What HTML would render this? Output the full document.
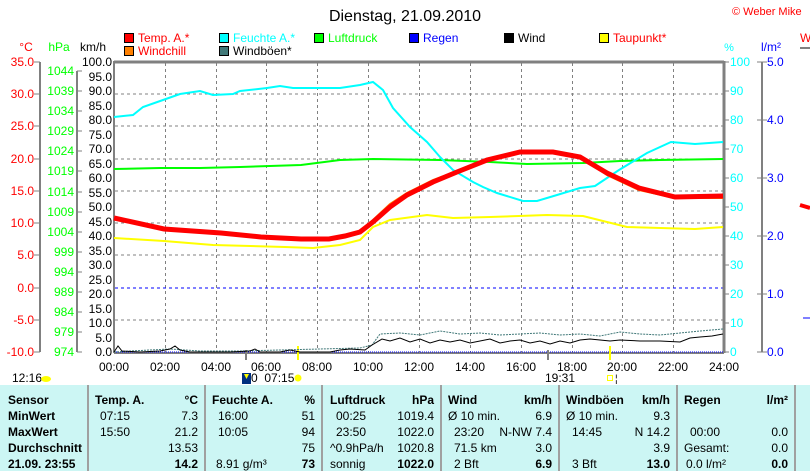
<!DOCTYPE html>
<html><head><meta charset="utf-8"><style>
html,body{margin:0;padding:0;background:#fff;}
svg{display:block;font-family:"Liberation Sans",Arial,sans-serif;}
</style></head><body>
<svg width="810" height="471" viewBox="0 0 810 471" xmlns="http://www.w3.org/2000/svg">
<rect width="810" height="471" fill="#fff"/>
<text x="405" y="21" font-size="16" text-anchor="middle">Dienstag, 21.09.2010</text>
<text x="732" y="15" font-size="11" fill="#f00">© Weber Mike</text>
<g font-size="12">
<rect x="124.5" y="33.5" width="9" height="9" fill="#f00" stroke="#000"/><text x="138" y="42" fill="#f00">Temp. A.*</text>
<rect x="124.5" y="46.5" width="9" height="9" fill="#ff8000" stroke="#000"/><text x="138" y="55" fill="#f00">Windchill</text>
<rect x="219.5" y="33.5" width="9" height="9" fill="#0ff" stroke="#000"/><text x="233" y="42" fill="#0ff">Feuchte A.*</text>
<rect x="219.5" y="46.5" width="9" height="9" fill="#407878" stroke="#000"/><text x="233" y="55">Windböen*</text>
<rect x="314.5" y="33.5" width="9" height="9" fill="#0f0" stroke="#000"/><text x="328" y="42" fill="#0f0">Luftdruck</text>
<rect x="409.5" y="33.5" width="9" height="9" fill="#00f" stroke="#000"/><text x="423" y="42" fill="#00f">Regen</text>
<rect x="504.5" y="33.5" width="9" height="9" fill="#000" stroke="#000"/><text x="518" y="42">Wind</text>
<rect x="599.5" y="33.5" width="9" height="9" fill="#ff0" stroke="#000"/><text x="613" y="42" fill="#f00">Taupunkt*</text>
</g>
<g font-size="12">
<text x="26" y="51" fill="#f00" text-anchor="middle">°C</text>
<text x="59" y="51" fill="#0f0" text-anchor="middle">hPa</text>
<text x="93" y="51" text-anchor="middle">km/h</text>
<text x="729" y="51" fill="#0ff" text-anchor="middle" font-size="11">%</text>
<text x="771" y="51" fill="#00f" text-anchor="middle">l/m²</text>
<text x="800" y="42" fill="#f00">W</text>
</g>
<g stroke="#808080" stroke-dasharray="3,3" stroke-width="1">
<line x1="115" y1="94" x2="723" y2="94"/><line x1="115" y1="126" x2="723" y2="126"/><line x1="115" y1="159" x2="723" y2="159"/><line x1="115" y1="191" x2="723" y2="191"/><line x1="115" y1="223" x2="723" y2="223"/><line x1="115" y1="255" x2="723" y2="255"/><line x1="115" y1="320" x2="723" y2="320"/>
<line x1="165.5" y1="63" x2="165.5" y2="352"/><line x1="216.5" y1="63" x2="216.5" y2="352"/><line x1="266.5" y1="63" x2="266.5" y2="352"/><line x1="317.5" y1="63" x2="317.5" y2="352"/><line x1="368.5" y1="63" x2="368.5" y2="352"/><line x1="419.5" y1="63" x2="419.5" y2="352"/><line x1="470.5" y1="63" x2="470.5" y2="352"/><line x1="521.5" y1="63" x2="521.5" y2="352"/><line x1="572.5" y1="63" x2="572.5" y2="352"/><line x1="622.5" y1="63" x2="622.5" y2="352"/><line x1="673.5" y1="63" x2="673.5" y2="352"/>
</g>
<line x1="115" y1="288" x2="723" y2="288" stroke="#00f" stroke-dasharray="3,3"/>
<g fill="none" stroke="#808080" stroke-width="2">
<line x1="114" y1="62" x2="724" y2="62" stroke-width="3"/>
<line x1="114" y1="61" x2="114" y2="353"/>
<line x1="724" y1="61" x2="724" y2="353" stroke-width="3"/>
<line x1="40" y1="62" x2="40" y2="352"/>
<line x1="77" y1="71" x2="77" y2="352"/>
<line x1="762" y1="62" x2="762" y2="352"/>
<line x1="800" y1="48" x2="810" y2="48"/>
</g>
<line x1="114" y1="353" x2="724" y2="353" stroke="#808080" stroke-width="2"/>
<line x1="114" y1="352" x2="724" y2="352" stroke="#00f" stroke-dasharray="1,1"/>
<g stroke="#808080">
<line x1="34" y1="62" x2="40" y2="62"/><line x1="34" y1="94" x2="40" y2="94"/><line x1="34" y1="126" x2="40" y2="126"/><line x1="34" y1="159" x2="40" y2="159"/><line x1="34" y1="191" x2="40" y2="191"/><line x1="34" y1="223" x2="40" y2="223"/><line x1="34" y1="255" x2="40" y2="255"/><line x1="34" y1="288" x2="40" y2="288"/><line x1="34" y1="320" x2="40" y2="320"/><line x1="34" y1="352" x2="40" y2="352"/>
<line x1="77" y1="71" x2="82" y2="71"/><line x1="77" y1="91" x2="82" y2="91"/><line x1="77" y1="111" x2="82" y2="111"/><line x1="77" y1="131" x2="82" y2="131"/><line x1="77" y1="151" x2="82" y2="151"/><line x1="77" y1="171" x2="82" y2="171"/><line x1="77" y1="192" x2="82" y2="192"/><line x1="77" y1="212" x2="82" y2="212"/><line x1="77" y1="232" x2="82" y2="232"/><line x1="77" y1="252" x2="82" y2="252"/><line x1="77" y1="272" x2="82" y2="272"/><line x1="77" y1="292" x2="82" y2="292"/><line x1="77" y1="312" x2="82" y2="312"/><line x1="77" y1="332" x2="82" y2="332"/><line x1="77" y1="352" x2="82" y2="352"/>
<line x1="724" y1="62" x2="729" y2="62"/><line x1="724" y1="91" x2="729" y2="91"/><line x1="724" y1="120" x2="729" y2="120"/><line x1="724" y1="149" x2="729" y2="149"/><line x1="724" y1="178" x2="729" y2="178"/><line x1="724" y1="207" x2="729" y2="207"/><line x1="724" y1="236" x2="729" y2="236"/><line x1="724" y1="265" x2="729" y2="265"/><line x1="724" y1="294" x2="729" y2="294"/><line x1="724" y1="323" x2="729" y2="323"/><line x1="724" y1="352" x2="729" y2="352"/>
<line x1="757" y1="62" x2="767" y2="62"/><line x1="757" y1="120" x2="767" y2="120"/><line x1="757" y1="178" x2="767" y2="178"/><line x1="757" y1="236" x2="767" y2="236"/><line x1="757" y1="294" x2="767" y2="294"/><line x1="757" y1="352" x2="767" y2="352"/>
</g>
<g font-size="12" fill="#f00" text-anchor="end">
<text x="34" y="66">35.0</text><text x="34" y="98">30.0</text><text x="34" y="130">25.0</text><text x="34" y="163">20.0</text><text x="34" y="195">15.0</text><text x="34" y="227">10.0</text><text x="34" y="259">5.0</text><text x="34" y="292">0.0</text><text x="34" y="324">-5.0</text><text x="34" y="356">-10.0</text>
</g>
<g font-size="12" fill="#0f0" text-anchor="end">
<text x="74" y="75">1044</text><text x="74" y="95">1039</text><text x="74" y="115">1034</text><text x="74" y="135">1029</text><text x="74" y="155">1024</text><text x="74" y="175">1019</text><text x="74" y="196">1014</text><text x="74" y="216">1009</text><text x="74" y="236">1004</text><text x="74" y="256">999</text><text x="74" y="276">994</text><text x="74" y="296">989</text><text x="74" y="316">984</text><text x="74" y="336">979</text><text x="74" y="356">974</text>
</g>
<g font-size="12" text-anchor="end">
<text x="112" y="66">100.0</text><text x="112" y="81">95.0</text><text x="112" y="95">90.0</text><text x="112" y="110">85.0</text><text x="112" y="124">80.0</text><text x="112" y="139">75.0</text><text x="112" y="153">70.0</text><text x="112" y="168">65.0</text><text x="112" y="182">60.0</text><text x="112" y="197">55.0</text><text x="112" y="211">50.0</text><text x="112" y="226">45.0</text><text x="112" y="240">40.0</text><text x="112" y="255">35.0</text><text x="112" y="269">30.0</text><text x="112" y="284">25.0</text><text x="112" y="298">20.0</text><text x="112" y="313">15.0</text><text x="112" y="327">10.0</text><text x="112" y="342">5.0</text><text x="112" y="356">0.0</text>
</g>
<g font-size="12" fill="#0ff">
<text x="730" y="66">100</text><text x="730" y="95">90</text><text x="730" y="124">80</text><text x="730" y="153">70</text><text x="730" y="182">60</text><text x="730" y="211">50</text><text x="730" y="240">40</text><text x="730" y="269">30</text><text x="730" y="298">20</text><text x="730" y="327">10</text><text x="730" y="356">0</text>
</g>
<g font-size="12" fill="#00f">
<text x="767" y="66">5.0</text><text x="767" y="124">4.0</text><text x="767" y="182">3.0</text><text x="767" y="240">2.0</text><text x="767" y="298">1.0</text><text x="767" y="356">0.0</text>
</g>
<path d="M800 205 L810 208" stroke="#f00" stroke-width="4"/>
<line x1="803" y1="318" x2="810" y2="318" stroke="#00f"/>
<g font-size="12" text-anchor="middle">
<text x="114" y="371">00:00</text><text x="165" y="371">02:00</text><text x="216" y="371">04:00</text><text x="266" y="371">06:00</text><text x="317" y="371">08:00</text><text x="368" y="371">10:00</text><text x="419" y="371">12:00</text><text x="470" y="371">14:00</text><text x="521" y="371">16:00</text><text x="572" y="371">18:00</text><text x="622" y="371">20:00</text><text x="673" y="371">22:00</text><text x="724" y="371">24:00</text>
</g>
<line x1="246" y1="350" x2="246" y2="360" stroke="#808080" stroke-width="2"/>
<line x1="548" y1="350" x2="548" y2="360" stroke="#808080" stroke-width="2"/>
<line x1="298" y1="346" x2="298" y2="360" stroke="#ff0" stroke-width="2"/>
<line x1="610" y1="346" x2="610" y2="360" stroke="#ff0" stroke-width="2"/>
<polyline fill="none" stroke="#0f0" stroke-width="2" points="114,169 160,168 200,168 240,167 301,165 340,160 373,159 440,160 490,162 527,164 583,163 620,161 660,160 723,159"/>
<polyline fill="none" stroke="#0ff" stroke-width="2" points="114,117 133,115 143,107 163,100 180,94 200,91 213,95 233,94 240,91 267,88 280,86 293,88 340,88 360,85 373,82 383,90 393,108 410,127 427,142 440,157 453,170 473,182 483,187 497,193 523,201 537,201 557,195 580,188 595,186 619,170 647,153 671,142 695,144 723,142"/>
<polyline fill="none" stroke="#ff0" stroke-width="2" points="114,238 164,241 213,245 285,247 313,248 340,245 360,240 373,227 390,220 427,215 453,218 490,217 547,215 583,216 627,227 695,229 723,227"/>
<polyline fill="none" stroke="#ff8000" stroke-width="2" points="114,219 164,230 221,234 261,238 301,240 329,240 360,231 373,220 390,204 407,193 433,180 457,171 487,159 520,152 553,152 583,158 607,175 639,190 675,198 723,198"/>
<polyline fill="none" stroke="#f00" stroke-width="5" points="114,218 164,229 221,233 261,237 301,239 329,239 345,236 360,232 373,222 390,207 407,195 433,182 457,172 487,160 520,152 553,152 580,157 607,173 639,188 675,197 723,196"/>
<polyline fill="none" stroke="#407878" stroke-width="1" stroke-dasharray="2,1" points="114,352 130,351 150,350 170,349 200,351 240,351 280,350 320,349 360,348 372,345 380,334 400,333 420,335 440,331 460,334 480,333 500,335 520,334 540,333 560,335 580,334 600,336 620,332 640,334 660,335 680,333 700,331 723,329"/>
<polyline fill="none" stroke="#000" stroke-width="1" points="114,352 118,346 122,351 140,352 160,351 170,349 175,346 180,350 190,352 230,352 250,351 255,349 260,352 280,352 290,350 300,352 330,352 340,350 350,349 365,350 372,345 382,339 390,341 400,338 410,342 420,339 430,343 440,340 450,342 460,340 470,343 480,341 490,339 500,343 510,341 520,340 530,343 540,341 550,344 560,341 570,343 580,340 590,339 600,340 610,341 620,340 640,341 660,341 680,342 690,338 700,337 712,336 723,334"/>
<text x="12" y="382" font-size="12">12:16</text>
<ellipse cx="46" cy="379" rx="5" ry="3" fill="#ff0"/>
<rect x="242" y="373" width="9" height="11" fill="#003080"/><path d="M244 374 L249 374 L246.5 379 Z" fill="#ff0"/>
<text x="251" y="382" font-size="12">0&#160;&#160;07:15</text>
<circle cx="298" cy="378" r="3.5" fill="#ff0"/>
<text x="560" y="382" font-size="12" text-anchor="middle">19:31</text>
<rect x="607.5" y="375.5" width="5" height="5" fill="none" stroke="#ff0"/>
<text x="615" y="382" font-size="10">¦</text>
<rect x="0" y="385" width="810" height="86" fill="#ccf6f4"/>
<g stroke="#a0a0a0" stroke-width="2">
<line x1="88" y1="385" x2="88" y2="471"/><line x1="205" y1="385" x2="205" y2="471"/><line x1="322" y1="385" x2="322" y2="471"/><line x1="441" y1="385" x2="441" y2="471"/><line x1="559" y1="385" x2="559" y2="471"/><line x1="677" y1="385" x2="677" y2="471"/><line x1="795" y1="385" x2="795" y2="471"/>
</g>
<g font-size="12" font-weight="bold">
<text x="8" y="404">Sensor</text><text x="8" y="420">MinWert</text><text x="8" y="436">MaxWert</text><text x="8" y="452">Durchschnitt</text><text x="8" y="468">21.09. 23:55</text>
<text x="95" y="404">Temp. A.</text><text x="198" y="404" text-anchor="end">°C</text>
<text x="212" y="404">Feuchte A.</text><text x="315" y="404" text-anchor="end">%</text>
<text x="330" y="404">Luftdruck</text><text x="434" y="404" text-anchor="end">hPa</text>
<text x="448" y="404">Wind</text><text x="552" y="404" text-anchor="end">km/h</text>
<text x="566" y="404">Windböen</text><text x="670" y="404" text-anchor="end">km/h</text>
<text x="684" y="404">Regen</text><text x="788" y="404" text-anchor="end">l/m²</text>
<text x="198" y="468" text-anchor="end">14.2</text><text x="315" y="468" text-anchor="end">73</text><text x="434" y="468" text-anchor="end">1022.0</text><text x="552" y="468" text-anchor="end">6.9</text><text x="670" y="468" text-anchor="end">13.0</text><text x="788" y="468" text-anchor="end">0.0</text>
</g>
<g font-size="12">
<text x="100" y="420">07:15</text><text x="198" y="420" text-anchor="end">7.3</text>
<text x="100" y="436">15:50</text><text x="198" y="436" text-anchor="end">21.2</text>
<text x="198" y="452" text-anchor="end">13.53</text>
<text x="218" y="420">16:00</text><text x="315" y="420" text-anchor="end">51</text>
<text x="218" y="436">10:05</text><text x="315" y="436" text-anchor="end">94</text>
<text x="315" y="452" text-anchor="end">75</text>
<text x="216" y="468">8.91 g/m³</text>
<text x="336" y="420">00:25</text><text x="434" y="420" text-anchor="end">1019.4</text>
<text x="336" y="436">23:50</text><text x="434" y="436" text-anchor="end">1022.0</text>
<text x="330" y="452">^0.9hPa/h</text><text x="434" y="452" text-anchor="end">1020.8</text>
<text x="330" y="468">sonnig</text>
<text x="448" y="420">Ø 10 min.</text><text x="552" y="420" text-anchor="end">6.9</text>
<text x="454" y="436">23:20</text><text x="552" y="436" text-anchor="end">N-NW 7.4</text>
<text x="454" y="452">71.5 km</text><text x="552" y="452" text-anchor="end">3.0</text>
<text x="454" y="468">2 Bft</text>
<text x="566" y="420">Ø 10 min.</text><text x="670" y="420" text-anchor="end">9.3</text>
<text x="572" y="436">14:45</text><text x="670" y="436" text-anchor="end">N 14.2</text>
<text x="670" y="452" text-anchor="end">3.9</text>
<text x="572" y="468">3 Bft</text>
<text x="690" y="436">00:00</text><text x="788" y="436" text-anchor="end">0.0</text>
<text x="684" y="452">Gesamt:</text><text x="788" y="452" text-anchor="end">0.0</text>
<text x="686" y="468">0.0 l/m²</text>
</g>
</svg>
</body></html>
